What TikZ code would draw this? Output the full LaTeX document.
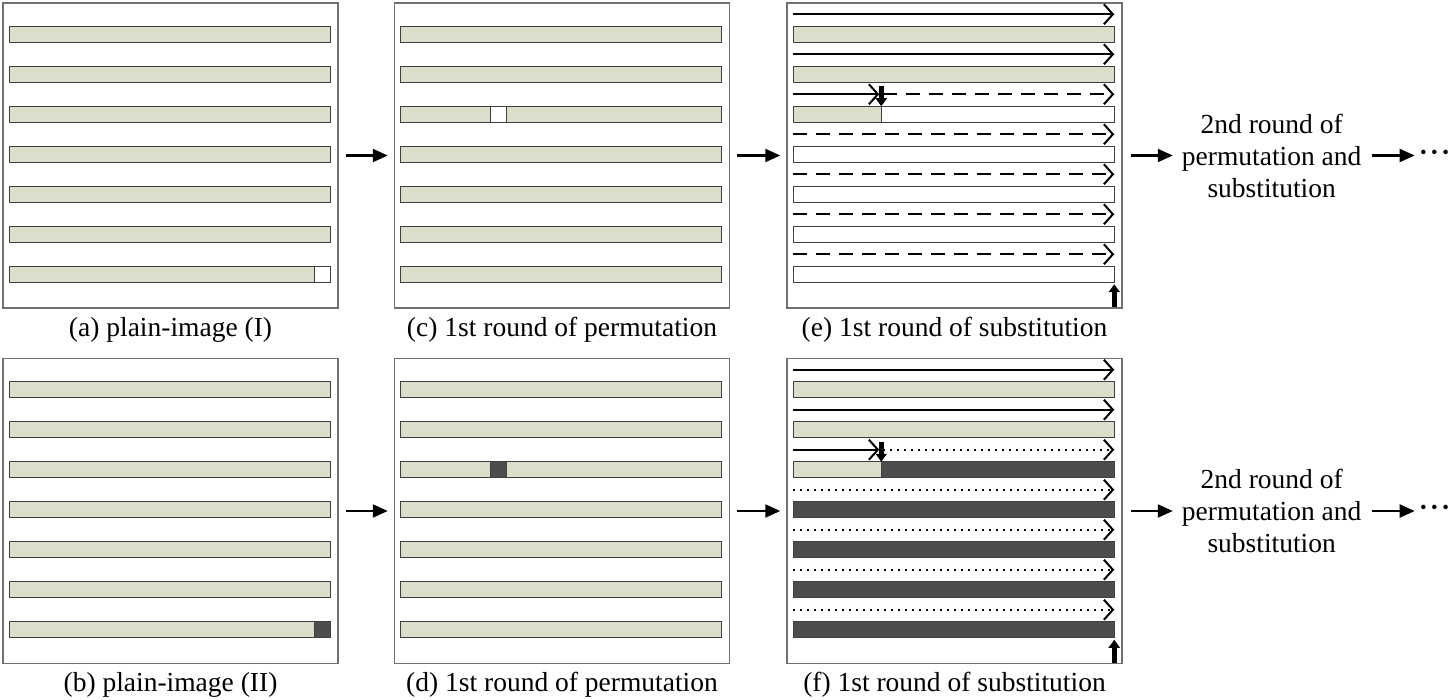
\documentclass[tikz,border=0pt]{standalone}
\usepackage{fontspec}
\setmainfont{Liberation Serif}
\newfontfamily\capfont{Liberation Serif}
\usetikzlibrary{arrows.meta, positioning}
\definecolor{barfill}{HTML}{DCDECC}
\definecolor{bardark}{HTML}{4D4D4D}
\definecolor{framegray}{HTML}{707070}

\begin{document}
\begin{tikzpicture}[x=1pt, y=-1pt,
  panel/.style={draw=framegray, line width=1.5pt, minimum width=335pt, minimum height=305pt, inner sep=0},
  bar/.style={draw=black!75, line width=1.2pt, fill=barfill},
  lbl/.style={font=\capfont\fontsize{27.5}{32}\selectfont, inner sep=0},
  flow/.style={line width=2.2pt, -{Triangle[length=15pt,width=13pt]}},
  scan/.style={line width=2pt, -{Straight Barb[length=9pt,width=20pt]}},
  pointer/.style={line width=5pt, -{Triangle[length=8pt,width=11pt]}}]
\useasboundingbox (0,0) rectangle (1451,700);

\node[panel] (pa) at (170.5,155.5) {};
\node[panel, right=55pt of pa] (pc) {};
\node[panel, right=56pt of pc] (pe) {};
\node[panel, below=49pt of pa] (pb) {};
\node[panel, below=49pt of pc] (pd) {};
\node[panel, below=49pt of pe] (pf) {};

\node[lbl, below=8pt of pa] (la) {(a) plain-image (I)};
\node[lbl, below=8pt of pb] (lb) {(b) plain-image (II)};
\node[lbl, below=8pt of pc] (lc) {(c) 1st round of permutation};
\node[lbl, below=8pt of pd] (ld) {(d) 1st round of permutation};
\node[lbl, below=8pt of pe] (le) {(e) 1st round of substitution};
\node[lbl, below=8pt of pf] (lf) {(f) 1st round of substitution};

\foreach \p in {pa,pb,pc,pd}
  \foreach \i in {0,...,6}
    \draw[bar] ([shift={(7,24+40*\i)}]\p.north west) rectangle ++(321,16);
\draw[bar, fill=white] ([shift={(312,264)}]pa.north west) rectangle ++(16,16);
\draw[bar, fill=bardark] ([shift={(312,264)}]pb.north west) rectangle ++(16,16);
\draw[bar, fill=white] ([shift={(97,104)}]pc.north west) rectangle ++(16,16);
\draw[bar, fill=bardark] ([shift={(97,104)}]pd.north west) rectangle ++(16,16);

\foreach \p/\c in {pe/white,pf/bardark} {
  \foreach \i in {0,1} {
    \draw[bar] ([shift={(7,24+40*\i)}]\p.north west) rectangle ++(321,16);
    \draw[scan] ([shift={(7,12+40*\i)}]\p.north west) -- ++(321,0);
  }
  \draw[bar] ([shift={(7,104)}]\p.north west) rectangle ++(88,16);
  \draw[bar, fill=\c] ([shift={(95,104)}]\p.north west) rectangle ++(233,16);
  \foreach \i in {3,...,6}
    \draw[bar, fill=\c] ([shift={(7,24+40*\i)}]\p.north west) rectangle ++(321,16);
  \draw[scan] ([shift={(7,92)}]\p.north west) -- ++(86,0);
  \draw[pointer] ([shift={(95,84)}]\p.north west) -- ++(0,20);
  \draw[pointer] ([shift={(328,305)}]\p.north west) -- ++(0,-23);
}
\draw[scan, dash pattern=on 14pt off 9pt] ([shift={(97,92)}]pe.north west) -- ++(231,0);
\foreach \i in {3,...,6}
  \draw[scan, dash pattern=on 14pt off 9pt] ([shift={(7,12+40*\i)}]pe.north west) -- ++(321,0);
\draw[scan, dash pattern=on 2pt off 5pt] ([shift={(97,92)}]pf.north west) -- ++(231,0);
\foreach \i in {3,...,6}
  \draw[scan, dash pattern=on 2pt off 5pt] ([shift={(7,12+40*\i)}]pf.north west) -- ++(321,0);

\node[lbl, align=center, right=59pt of pe] (next1) {2nd round of\\permutation and\\substitution};
\node[lbl, align=center, right=59pt of pf] (next2) {2nd round of\\permutation and\\substitution};
\node[lbl, right=57pt of next1] (more1) {\bfseries\textperiodcentered\kern2pt\textperiodcentered\kern2pt\textperiodcentered};
\node[lbl, right=57pt of next2] (more2) {\bfseries\textperiodcentered\kern2pt\textperiodcentered\kern2pt\textperiodcentered};

\draw[flow, shorten <=7pt, shorten >=6pt] (pa) -- (pc);
\draw[flow, shorten <=7pt, shorten >=6pt] (pc) -- (pe);
\draw[flow, shorten <=7pt, shorten >=6pt] (pb) -- (pd);
\draw[flow, shorten <=7pt, shorten >=6pt] (pd) -- (pf);
\draw[flow, shorten <=8pt, shorten >=9pt] (pe) -- (next1);
\draw[flow, shorten <=8pt, shorten >=9pt] (pf) -- (next2);
\draw[flow, shorten <=10pt, shorten >=4pt] (next1) -- (more1);
\draw[flow, shorten <=10pt, shorten >=4pt] (next2) -- (more2);
\end{tikzpicture}
\end{document}
